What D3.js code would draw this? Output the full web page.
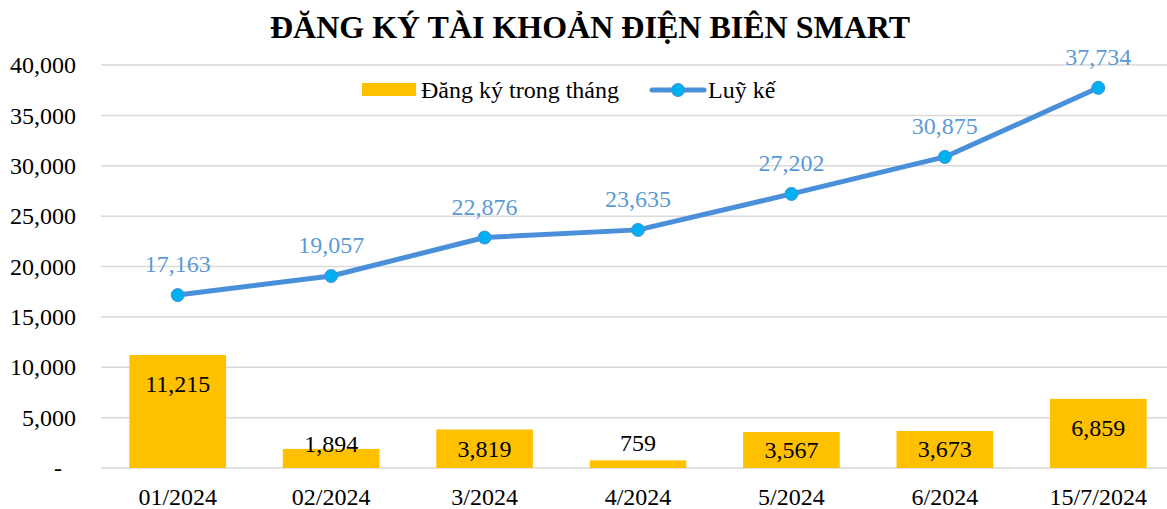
<!DOCTYPE html>
<html>
<head>
<meta charset="utf-8">
<script src="https://cdn.jsdelivr.net/npm/d3@7"></script>
<style>
  body { margin: 0; background: #fff; }
  text { font-family: "Liberation Serif", "Times New Roman", serif; }
</style>
</head>
<body>
<div id="chart"></div>
<script>
// Data
const categories = ["01/2024", "02/2024", "3/2024", "4/2024", "5/2024", "6/2024", "15/7/2024"];
const monthly = [11215, 1894, 3819, 759, 3567, 3673, 6859];
const cumulative = [17163, 19057, 22876, 23635, 27202, 30875, 37734];
const yTicks = [0, 5000, 10000, 15000, 20000, 25000, 30000, 35000, 40000];

const outerWidth = 1167;
const outerHeight = 509;

const svg = d3.select("#chart")
  .append("svg")
  .attr("width", outerWidth)
  .attr("height", outerHeight);

// Scales
const x = d3.scaleBand()
  .domain(categories)
  .range([101, 1175])
  .paddingInner(0.37)
  .paddingOuter(0.185);

const y = d3.scaleLinear()
  .domain([0, 40000])
  .range([468, 65]);

const fmt = d3.format(",");
const cx = (d, i) => x(categories[i]) + x.bandwidth() / 2;

// Title
svg.append("text")
  .attr("x", 590)
  .attr("y", 38)
  .attr("text-anchor", "middle")
  .attr("font-size", 32)
  .attr("font-weight", "bold")
  .attr("fill", "#000")
  .text("ĐĂNG KÝ TÀI KHOẢN ĐIỆN BIÊN SMART");

// Gridlines
svg.append("g")
  .selectAll("line")
  .data(yTicks)
  .join("line")
  .attr("x1", 101)
  .attr("x2", 1167)
  .attr("y1", d => y(d))
  .attr("y2", d => y(d))
  .attr("stroke", "#d9d9d9")
  .attr("stroke-width", 1.5);

// Y axis labels
const yAxis = svg.append("g")
  .attr("transform", "translate(80,0)")
  .call(d3.axisLeft(y).tickValues(yTicks).tickSize(0).tickPadding(4)
    .tickFormat(d => d === 0 ? "-" : fmt(d)));
yAxis.select(".domain").remove();
yAxis.selectAll("text")
  .attr("font-family", "Liberation Serif, serif")
  .attr("font-size", 24)
  .attr("fill", "#000")
  .attr("dx", d => d === 0 ? -14 : 0);

// X axis labels
const xAxis = svg.append("g")
  .attr("transform", "translate(0,468)")
  .call(d3.axisBottom(x).tickSize(0));
xAxis.select(".domain").remove();
xAxis.selectAll("text")
  .attr("font-family", "Liberation Serif, serif")
  .attr("font-size", 24)
  .attr("fill", "#000")
  .attr("y", 37)
  .attr("dy", 0);

// Bars
svg.append("g")
  .selectAll("rect")
  .data(monthly)
  .join("rect")
  .attr("x", (d, i) => x(categories[i]))
  .attr("y", d => y(d))
  .attr("width", x.bandwidth())
  .attr("height", d => y(0) - y(d))
  .attr("fill", "#FFC000");

// Bar labels: inside the top for tall bars, centred for medium, above for short
function barLabelY(d) {
  const top = y(d), h = y(0) - y(d);
  if (h > 60) return top + 37;
  if (h > 30) return (top + y(0)) / 2 + 8;
  if (h > 15) return top + 3;
  return top - 9;
}

svg.append("g")
  .selectAll("text")
  .data(monthly)
  .join("text")
  .attr("x", cx)
  .attr("y", barLabelY)
  .attr("text-anchor", "middle")
  .attr("font-size", 24)
  .attr("fill", "#000")
  .text(d => fmt(d));

// Line
const line = d3.line()
  .x(cx)
  .y(d => y(d));

svg.append("path")
  .datum(cumulative)
  .attr("d", line)
  .attr("fill", "none")
  .attr("stroke", "#4A8FDA")
  .attr("stroke-width", 5)
  .attr("stroke-linejoin", "round");

svg.append("g")
  .selectAll("circle")
  .data(cumulative)
  .join("circle")
  .attr("cx", cx)
  .attr("cy", d => y(d))
  .attr("r", 6.5)
  .attr("fill", "#00B0F0")
  .attr("stroke", "#4A8FDA")
  .attr("stroke-width", 1);

svg.append("g")
  .selectAll("text")
  .data(cumulative)
  .join("text")
  .attr("x", cx)
  .attr("y", d => y(d) - 23)
  .attr("text-anchor", "middle")
  .attr("font-size", 24)
  .attr("fill", "#5B9BD5")
  .text(d => fmt(d));

// Legend
const legend = svg.append("g");
legend.append("rect")
  .attr("x", 362).attr("y", 83)
  .attr("width", 54).attr("height", 13)
  .attr("fill", "#FFC000");
legend.append("text")
  .attr("x", 421).attr("y", 98)
  .attr("font-size", 24)
  .attr("fill", "#000")
  .text("Đăng ký trong tháng");
legend.append("line")
  .attr("x1", 652).attr("x2", 704)
  .attr("y1", 90).attr("y2", 90)
  .attr("stroke", "#4A8FDA")
  .attr("stroke-width", 5)
  .attr("stroke-linecap", "round");
legend.append("circle")
  .attr("cx", 678).attr("cy", 90)
  .attr("r", 6.5)
  .attr("fill", "#00B0F0")
  .attr("stroke", "#4A8FDA");
legend.append("text")
  .attr("x", 708).attr("y", 98)
  .attr("font-size", 24)
  .attr("fill", "#000")
  .text("Luỹ kế");
</script>
</body>
</html>
